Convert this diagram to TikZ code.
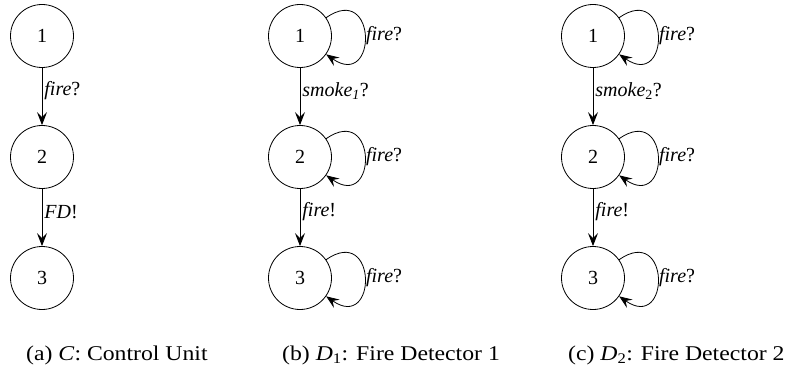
\documentclass[tikz,border=0pt]{standalone}
\usepackage{fontspec}
\setmainfont{Liberation Serif}
\newfontfamily\capfont[FakeStretch=1.13]{Liberation Serif}
\usetikzlibrary{arrows.meta}
\begin{document}
\begin{tikzpicture}[x=1pt,y=1pt,
  font=\fontsize{20}{24}\selectfont,
  st/.style={draw, circle, minimum size=63pt, inner sep=0pt, line width=0.8pt},
  tr/.style={line width=0.8pt, -{Stealth[length=13pt,width=10pt,inset=5pt]}},
  lab/.style={anchor=west, inner sep=2pt, pos=0.4},
  looplab/.style={anchor=west, inner sep=1pt, pos=0.5},
  selfloop/.style={out=35, in=-35, looseness=4.4},
  captext/.style={anchor=base west, inner sep=0pt, font=\capfont\fontsize{21}{25}\selectfont}]
\useasboundingbox (0,0) rectangle (795,378);
% (a)
\node[st] (a1) at (42,342) {1};
\node[st] (a2) at (42,221) {2};
\node[st] (a3) at (42,100) {3};
\draw[tr] (a1) -- node[lab] {\textit{fire}?} (a2);
\draw[tr] (a2) -- node[lab] {\textit{FD}!} (a3);
% (b)
\node[st] (b1) at (300,342) {1};
\node[st] (b2) at (300,221) {2};
\node[st] (b3) at (300,100) {3};
\draw[tr] (b1) -- node[lab] {\textit{smoke\textsubscript{1}}?} (b2);
\draw[tr] (b2) -- node[lab] {\textit{fire}!} (b3);
\draw[tr] (b1) to[selfloop] node[looplab] {\textit{fire}?} (b1);
\draw[tr] (b2) to[selfloop] node[looplab] {\textit{fire}?} (b2);
\draw[tr] (b3) to[selfloop] node[looplab] {\textit{fire}?} (b3);
% (c)
\node[st] (c1) at (593,342) {1};
\node[st] (c2) at (593,221) {2};
\node[st] (c3) at (593,100) {3};
\draw[tr] (c1) -- node[lab] {\textit{smoke}\textsubscript{2}?} (c2);
\draw[tr] (c2) -- node[lab] {\textit{fire}!} (c3);
\draw[tr] (c1) to[selfloop] node[looplab] {\textit{fire}?} (c1);
\draw[tr] (c2) to[selfloop] node[looplab] {\textit{fire}?} (c2);
\draw[tr] (c3) to[selfloop] node[looplab] {\textit{fire}?} (c3);
% captions
\node[captext] (capa) at (26,18) {(a) \textit{C}: Control Unit};
\node[captext] (capb) at (282,18) {(b) \textit{D}\textsubscript{1}: Fire Detector 1};
\node[captext] (capc) at (568,18) {(c) \textit{D}\textsubscript{2}: Fire Detector 2};
\end{tikzpicture}
\end{document}
